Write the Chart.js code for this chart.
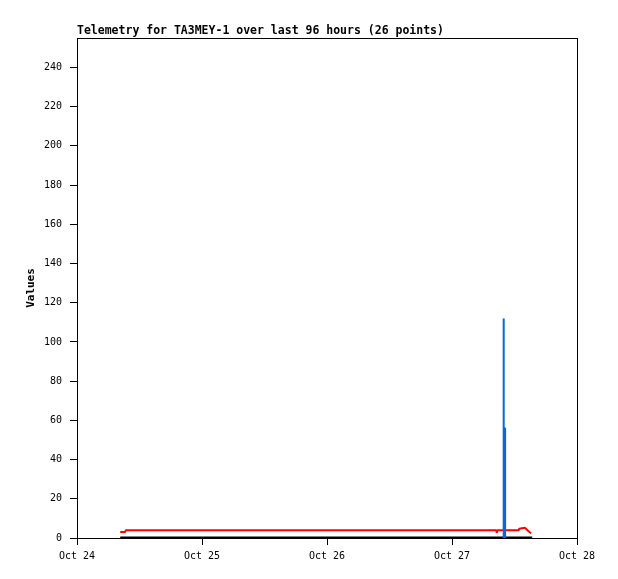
<!DOCTYPE html>
<html>

<head>
    <title>Telemetry</title>
    <meta http-equiv="Content-type" content="text/html; charset=utf-8">
    <script src="https://cdn.jsdelivr.net/npm/chart.js"></script>
    <style>
        body { margin: 0; background: #fff; }
        canvas { display: block; }
    </style>
</head>

<body>
    <canvas id="telemetry" width="618" height="579"></canvas>

    <script>
        // ---- data (x in hours since Oct 24 00:00) ----
        var tickHours = [0, 24, 48, 72, 96];
        var tickLabels = ["Oct 24", "Oct 25", "Oct 26", "Oct 27", "Oct 28"];

        var blackHours = [8.3, 9.4, 80.6, 81.9, 84.9, 87.4];
        var blackValues = [0, 0, 0, 0, 0, 0];

        var redHours = [8.3, 9.2, 9.4, 80.5, 80.6, 80.7, 84.8, 84.9, 86.0, 86.8, 87.2];
        var redValues = [3.0, 3.0, 3.9, 3.9, 2.7, 3.9, 3.9, 4.7, 5.2, 3.2, 2.4];

        var blueHours = [81.9, 81.9, 81.95, 82.2, 82.2];
        var blueValues = [0, 112, 56, 56, 0];

        var titleText = "Telemetry for TA3MEY-1 over last 96 hours (26 points)";

        function pts(xs, ys) {
            var out = [];
            for (var i = 0; i < xs.length; i++) {
                out.push({ x: xs[i], y: ys[i] });
            }
            return out;
        }

        // frame + title drawn round the plot area
        var framePlugin = {
            id: 'frame',
            afterDraw: function(chart) {
                var ctx = chart.ctx, a = chart.chartArea;
                ctx.save();
                ctx.strokeStyle = '#000';
                ctx.lineWidth = 1;
                ctx.strokeRect(Math.round(a.left) + 0.5, Math.round(a.top) + 0.5,
                    Math.round(a.right - a.left), Math.round(a.bottom - a.top));
                ctx.fillStyle = '#000';
                ctx.font = 'bold 11.5px "DejaVu Sans Mono"';
                ctx.textBaseline = 'bottom';
                ctx.fillText(titleText, a.left, a.top - 1);
                ctx.restore();
            }
        };

        var bgPlugin = {
            id: 'bg',
            beforeDraw: function(chart) {
                var ctx = chart.ctx;
                ctx.save();
                ctx.fillStyle = '#fff';
                ctx.fillRect(0, 0, chart.width, chart.height);
                ctx.restore();
            }
        };

        new Chart(document.getElementById("telemetry"), {
            type: 'line',
            data: {
                datasets: [{
                    data: pts(blueHours, blueValues),
                    borderColor: '#0a68d0',
                    borderWidth: 2,
                    order: 0
                }, {
                    data: pts(redHours, redValues),
                    borderColor: '#ff0000',
                    borderWidth: 2,
                    order: 1
                }, {
                    data: pts(blackHours, blackValues),
                    borderColor: '#000000',
                    borderWidth: 3,
                    order: 2
                }]
            },
            options: {
                responsive: false,
                animation: false,
                layout: { padding: { left: 0, top: 38, right: 41, bottom: 0 } },
                elements: {
                    point: { radius: 0 },
                    line: { tension: 0, borderJoinStyle: 'bevel', borderCapStyle: 'butt' }
                },
                plugins: {
                    legend: { display: false },
                    tooltip: { enabled: false },
                    title: { display: false }
                },
                scales: {
                    x: {
                        type: 'linear',
                        min: 0,
                        max: 96,
                        afterBuildTicks: function(axis) {
                            axis.ticks = tickHours.map(function(h) { return { value: h }; });
                        },
                        afterFit: function(axis) { axis.height = 41; },
                        ticks: {
                            color: '#000',
                            padding: 5,
                            maxRotation: 0,
                            font: { family: '"DejaVu Sans Mono"', size: 10 },
                            callback: function(v) {
                                var i = tickHours.indexOf(v);
                                return i >= 0 ? tickLabels[i] : '';
                            }
                        },
                        grid: {
                            drawOnChartArea: false,
                            color: '#000',
                            tickLength: 7
                        },
                        border: { color: '#000' }
                    },
                    y: {
                        min: 0,
                        max: 255,
                        afterBuildTicks: function(axis) {
                            var t = [];
                            for (var v = 0; v <= 240; v += 20) t.push({ value: v });
                            axis.ticks = t;
                        },
                        afterFit: function(axis) { axis.width = 77; },
                        title: {
                            display: true,
                            text: 'Values',
                            color: '#000',
                            padding: { top: 25, bottom: 0 },
                            font: { family: '"DejaVu Sans Mono"', size: 11, weight: 'bold' }
                        },
                        ticks: {
                            color: '#000',
                            padding: 8,
                            font: { family: '"DejaVu Sans Mono"', size: 10 }
                        },
                        grid: {
                            drawOnChartArea: false,
                            color: '#000',
                            tickLength: 7
                        },
                        border: { color: '#000' }
                    }
                }
            },
            plugins: [bgPlugin, framePlugin]
        });
    </script>

</body>

</html>
